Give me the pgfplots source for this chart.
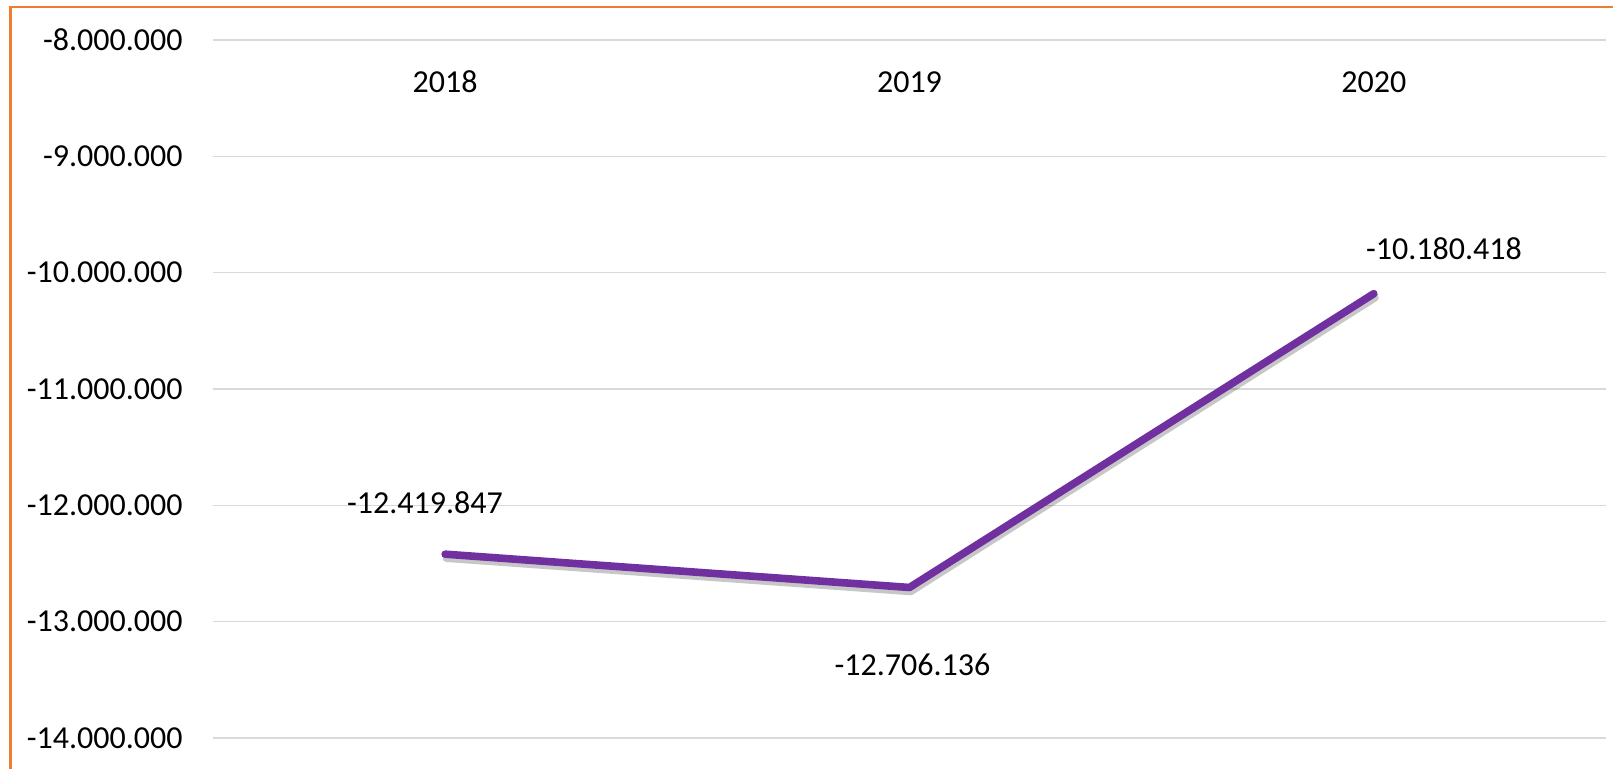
\documentclass[border=0pt]{standalone}
\usepackage{fontspec}
\setmainfont{Carlito}
\usepackage{pgfplots}
\pgfplotsset{compat=1.18}
\definecolor{excelorange}{HTML}{ED7D31}
\definecolor{linepurple}{HTML}{7030A0}
\definecolor{gridgray}{HTML}{D9D9D9}
\begin{document}
\fontsize{16pt}{19pt}\selectfont
\begin{tikzpicture}
\begin{axis}[
  at={(106.5pt,15pt)}, anchor=south west,
  scale only axis, width=696.5pt, height=349pt,
  xmin=-0.5, xmax=2.5, ymin=-14000000, ymax=-8000000,
  xtick={0,1,2}, xticklabels={2018,2019,2020},
  xticklabel pos=upper,
  xticklabel style={anchor=center, inner sep=0pt, yshift=-21pt},
  ytick={-14000000,-13000000,-12000000,-11000000,-10000000,-9000000,-8000000},
  yticklabels={-14.000.000,-13.000.000,-12.000.000,-11.000.000,-10.000.000,-9.000.000,-8.000.000},
  scaled y ticks=false,
  yticklabel style={anchor=east, inner sep=0pt, xshift=-15pt},
  ymajorgrids, grid style={gridgray, line width=0.75pt},
  axis line style={draw=none},
  major tick length=0pt,
  tick style={draw=none},
  clip=false,
  every tick label/.append style={font=\fontsize{16pt}{19pt}\selectfont},
]
\addplot[black, opacity=0.22, line width=3.8pt, line cap=round, line join=round,
  transform canvas={xshift=0.6pt, yshift=-2pt}] coordinates {
  (0,-12419847) (1,-12706136) (2,-10180418)};
\addplot[linepurple, line width=3.8pt, line cap=round, line join=round] coordinates {
  (0,-12419847) (1,-12706136) (2,-10180418)};
\node at (axis cs:-0.0434,-11981000) {-12.419.847};
\node at (axis cs:1.0065,-13374000) {-12.706.136};
\node at (axis cs:2.151,-9793000) {-10.180.418};
\end{axis}
\draw[excelorange, line width=1.4pt] (5.3pt,-20pt) -- (5.3pt,380.5pt) -- (830pt,380.5pt);
\pgfresetboundingbox
\path (0,0) rectangle (806.5pt,384pt);
\end{tikzpicture}
\end{document}
